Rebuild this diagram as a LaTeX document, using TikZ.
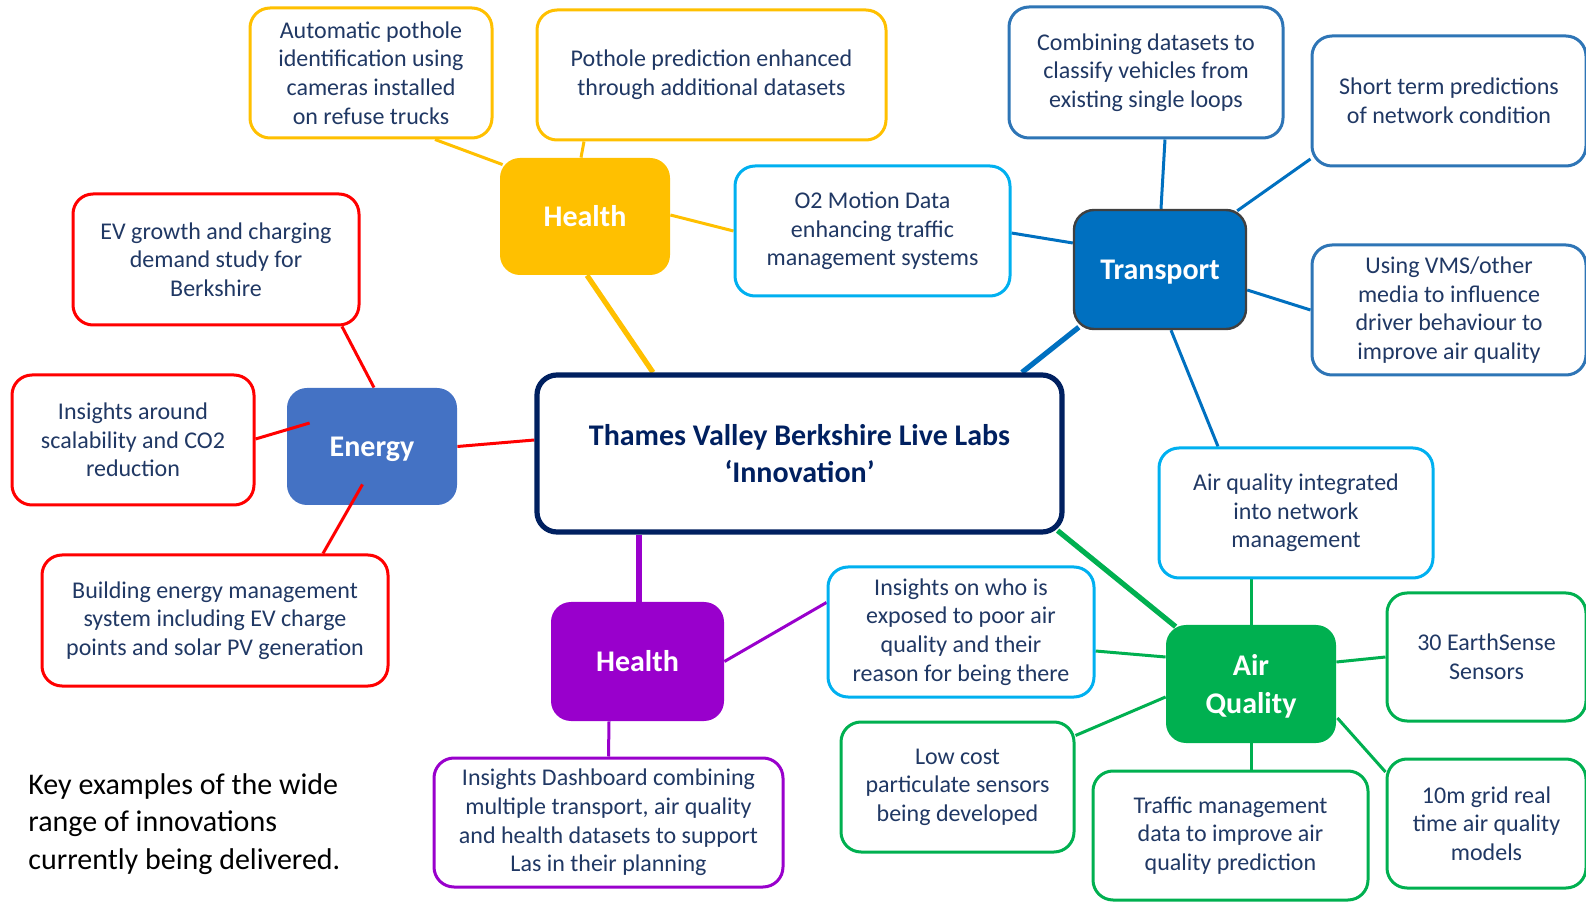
\documentclass[tikz,border=0pt]{standalone}
\usepackage{fontspec}
\setmainfont{Carlito}
\usetikzlibrary{calc,backgrounds}
\definecolor{hyellow}{HTML}{FFC000}
\definecolor{tblue}{HTML}{0070C0}
\definecolor{tborder}{HTML}{2E75B6}
\definecolor{lblue}{HTML}{00B0F0}
\definecolor{ered}{HTML}{FF0000}
\definecolor{eblue}{HTML}{4472C4}
\definecolor{navy}{HTML}{002060}
\definecolor{hpurple}{HTML}{9900CC}
\definecolor{agreen}{HTML}{00B050}
\definecolor{txtblue}{HTML}{203864}
\definecolor{tgrey}{HTML}{404040}
\tikzset{
  leaf/.style={draw=#1, line width=1.5pt, rounded corners=10pt, fill=white,
    align=center, text=txtblue, inner sep=2pt, font=\fontsize{12}{14.3}\selectfont},
  topic/.style={fill=#1, rounded corners=10pt, align=center, text=white,
    font=\fontsize{15}{18.7}\selectfont\bfseries},
  dims/.style 2 args={minimum width=#1, minimum height=#2},
  link/.style={draw=#1, line width=1.5pt},
  biglink/.style={draw=#1, line width=2.6pt},
}
\begin{document}
\begin{tikzpicture}[x=0.5pt,y=-0.5pt]
\useasboundingbox (0,0) rectangle (1586,903);
% Centre
\node[leaf=navy, dims={262.5pt}{78.5pt}, line width=2.6pt, text=navy,
  font=\fontsize{15}{18.7}\selectfont\bfseries] (centre) at (799.5,453.5)
  {Thames Valley Berkshire Live Labs\\‘Innovation’};
%% Health (yellow)
\node[topic=hyellow, dims={85pt}{58.5pt}] (healthA) at (585,216.5) {Health};
\node[leaf=hyellow, dims={121pt}{65pt}] (autopot) at (371,73)
  {Automatic pothole\\identification using\\cameras installed\\on refuse trucks};
\node[leaf=hyellow, dims={174.5pt}{65pt}] (potpred) at (711.5,75)
  {Pothole prediction enhanced\\through additional datasets};
\node[leaf=lblue, dims={137.5pt}{65pt}] (otwo) at (872.5,231)
  {O2 Motion Data\\enhancing traffic\\management systems};
%% Transport
\node[topic=tblue, draw=tgrey, line width=1.2pt, dims={86pt}{59.5pt}, text depth=0pt] (transport) at (1160,269.5) {Transport};
\node[leaf=tborder, dims={137pt}{65.5pt}] (combine) at (1146,72.5)
  {Combining datasets to\\classify vehicles from\\existing single loops};
\node[leaf=tborder, dims={137pt}{65pt}] (shortterm) at (1449,101)
  {Short term predictions\\of network condition};
\node[leaf=tborder, dims={137pt}{65pt}] (vms) at (1449,310)
  {Using VMS/other\\media to influence\\driver behaviour to\\improve air quality};
\node[leaf=lblue, dims={137pt}{65pt}] (aqint) at (1296,513)
  {Air quality integrated\\into network\\management};
%% Energy
\node[topic=eblue, dims={85pt}{58.5pt}, text depth=0pt] (energy) at (372,446.5) {Energy};
\node[leaf=ered, dims={143pt}{65.5pt}] (evgrowth) at (216,259.5)
  {EV growth and charging\\demand study for\\Berkshire};
\node[leaf=ered, dims={121pt}{65pt}] (scal) at (133,440)
  {Insights around\\scalability and CO2\\reduction};
\node[leaf=ered, dims={173pt}{65.5pt}] (building) at (215,620.5)
  {Building energy management\\system including EV charge\\points and solar PV generation};
%% Health (purple)
\node[topic=hpurple, dims={86.5pt}{59.5pt}] (healthB) at (637.5,661.5) {Health};
\node[leaf=lblue, dims={133pt}{65pt}] (whoexp) at (961,632)
  {Insights on who is\\exposed to poor air\\quality and their\\reason for being there};
\node[leaf=hpurple, dims={174.5pt}{64.5pt}] (dashboard) at (608.5,822.5)
  {Insights Dashboard combining\\multiple transport, air quality\\and health datasets to support\\Las in their planning};
%% Air quality
\node[topic=agreen, dims={85pt}{59pt}, text depth=0pt] (airq) at (1251,684) {Air\\Quality};
\node[leaf=agreen, dims={99.5pt}{64pt}] (earth) at (1486.5,657) {30 EarthSense\\Sensors};
\node[leaf=agreen, dims={116.5pt}{65pt}] (lowcost) at (957.5,787)
  {Low cost\\particulate sensors\\being developed};
\node[leaf=agreen, dims={137.5pt}{64.5pt}] (traffic) at (1230.5,835.5)
  {Traffic management\\data to improve air\\quality prediction};
\node[leaf=agreen, dims={99.5pt}{64.5pt}] (tengrid) at (1486.5,823.5)
  {10m grid real\\time air quality\\models};
% Note
\node[anchor=west, align=left, inner sep=0pt, font=\fontsize{15}{18.7}\selectfont] (note) at (28,824)
  {Key examples of the wide\\range of innovations\\currently being delivered.};
% Links
\begin{scope}[on background layer]
\draw[link=hyellow] ($(autopot.south)+(64,0)$) -- ($(healthA.north west)+(3,7)$);
\draw[link=hyellow] ($(potpred.south)+(-127.5,0)$) -- ($(healthA.north)+(-4,0)$);
\draw[link=hyellow] ($(healthA.east)+(0,-1.5)$) -- (otwo.west);
\draw[biglink=hyellow] ($(healthA.south)+(2,0)$) -- ($(centre.north)+(-146.5,0)$);
\draw[link=tblue] ($(otwo.east)+(0,2)$) -- ($(transport.west)+(0,-26.5)$);
\draw[link=tblue] ($(combine.south)+(19,0)$) -- ($(transport.north)+(1,0)$);
\draw[link=tblue] ($(transport.north east)+(-10,2)$) -- ($(shortterm.west)+(0,58)$);
\draw[link=tblue] ($(transport.east)+(0,20.5)$) -- (vms.west);
\draw[biglink=tblue] ($(transport.south west)+(6,-3)$) -- ($(centre.north)+(222.5,0)$);
\draw[link=tblue] ($(transport.south)+(11,0)$) -- ($(aqint.north)+(-78,0)$);
\draw[link=ered] ($(evgrowth.south)+(126,0)$) -- ($(energy.north)+(2,0)$);
\draw[link=ered] (energy.east) -- ($(centre.west)+(0,-13.5)$);
\draw[biglink=hpurple] ($(centre.south)+(-160.5,0)$) -- ($(healthB.north)+(1.5,0)$);
\draw[link=hpurple] (healthB.east) -- ($(whoexp.west)+(0,-29.5)$);
\draw[link=hpurple] ($(healthB.south)+(-28.5,0)$) -- (dashboard.north);
\draw[biglink=agreen] ($(centre.south east)+(-7,-4)$) -- ($(airq.north west)+(10,2)$);
\draw[link=agreen] ($(aqint.south)+(-45,0)$) -- (airq.north);
\draw[link=agreen] ($(whoexp.east)+(0,19)$) -- ($(airq.west)+(0,-27)$);
\draw[link=agreen] ($(airq.east)+(0,-22)$) -- (earth.west);
\draw[link=agreen] ($(lowcost.north east)+(0,15)$) -- ($(airq.west)+(0,13)$);
\draw[link=agreen] ($(airq.south)$) -- ($(traffic.north)+(20.5,0)$);
\draw[link=agreen] ($(airq.east)+(1,34)$) -- ($(tengrid.west)+(0,-51.5)$);
\end{scope}
% Energy spokes over the box
\draw[link=ered] ($(scal.east)+(0,-1)$) -- ($(energy.west)+(23,-23.5)$);
\draw[link=ered] ($(energy.south)+(-9.5,-21)$) -- ($(building.north)+(108,0)$);
\end{tikzpicture}
\end{document}
